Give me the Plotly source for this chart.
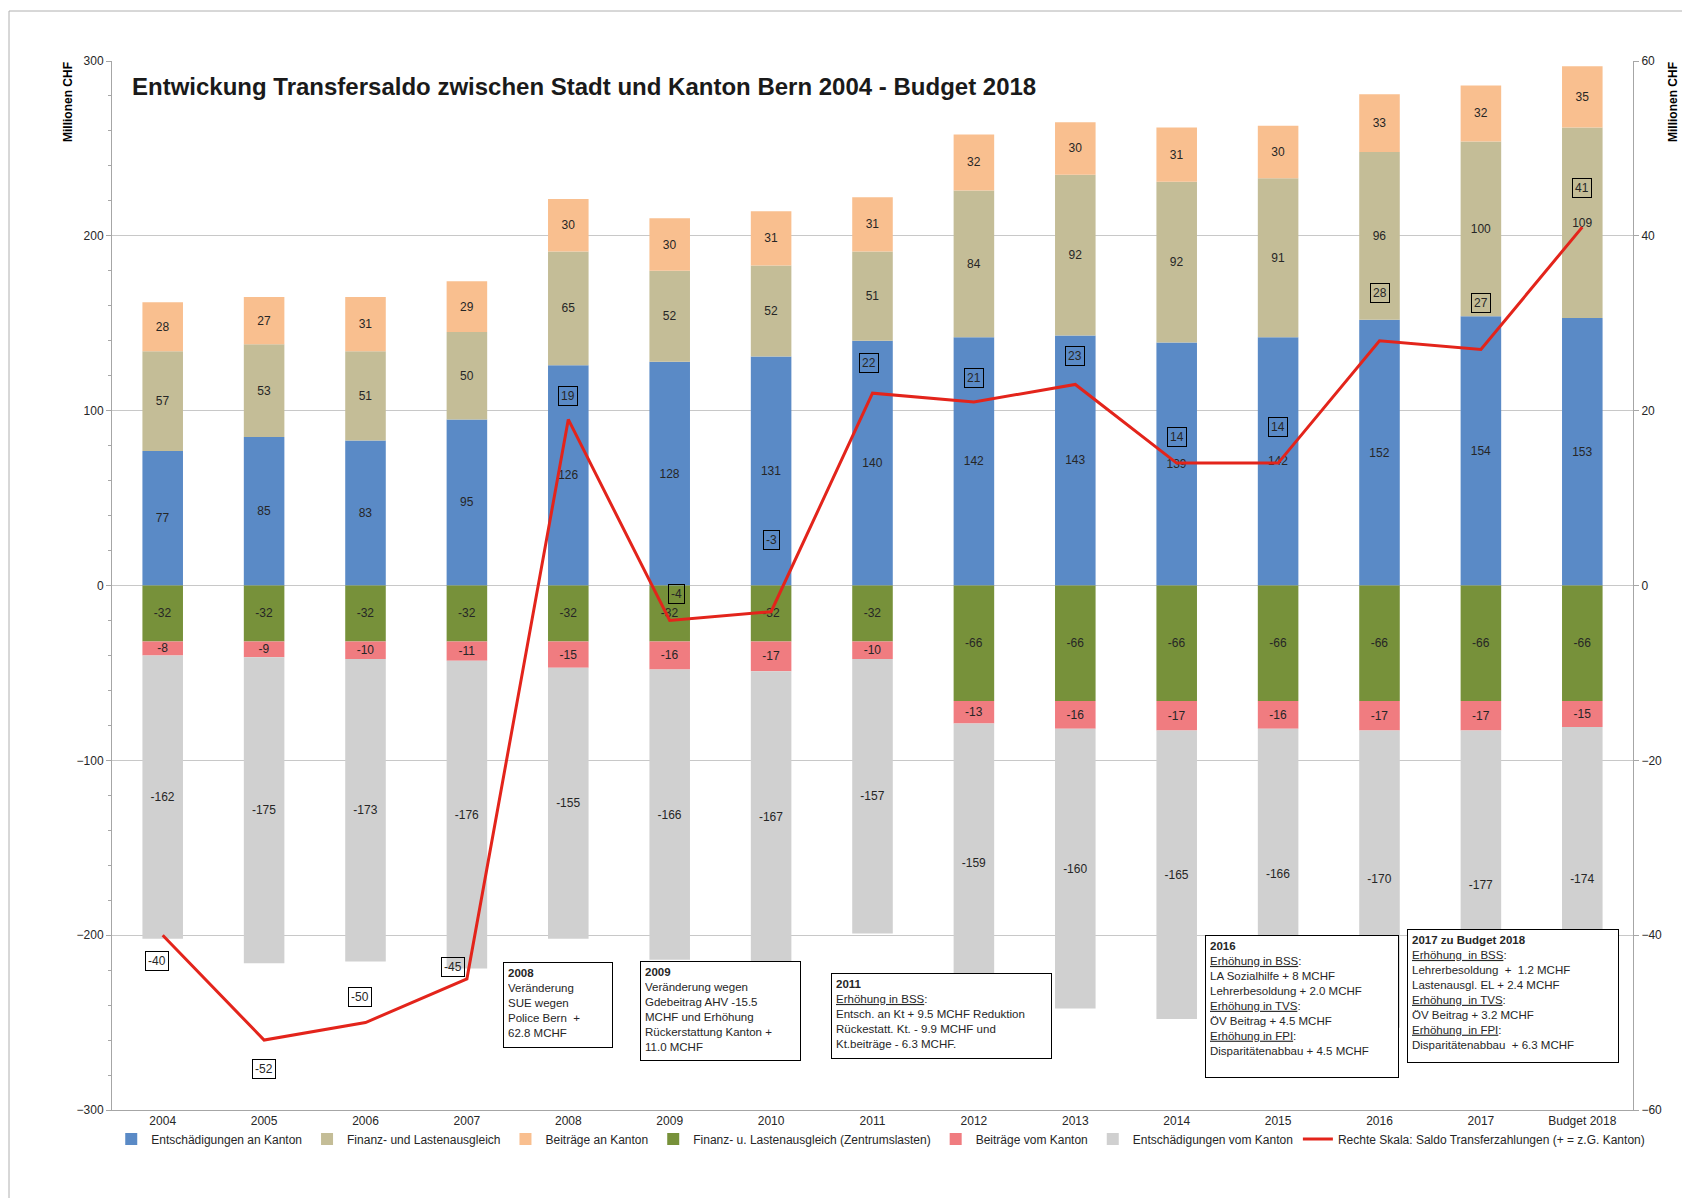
import plotly.graph_objects as go

# ---------------- data ----------------
years = ["2004", "2005", "2006", "2007", "2008", "2009", "2010", "2011",
         "2012", "2013", "2014", "2015", "2016", "2017", "Budget 2018"]
entsch_an_kanton = [77, 85, 83, 95, 126, 128, 131, 140, 142, 143, 139, 142, 152, 154, 153]
finanz_lastenausgleich = [57, 53, 51, 50, 65, 52, 52, 51, 84, 92, 92, 91, 96, 100, 109]
beitraege_an_kanton = [28, 27, 31, 29, 30, 30, 31, 31, 32, 30, 31, 30, 33, 32, 35]
zentrumslasten = [-32, -32, -32, -32, -32, -32, -32, -32, -66, -66, -66, -66, -66, -66, -66]
beitraege_vom_kanton = [-8, -9, -10, -11, -15, -16, -17, -10, -13, -16, -17, -16, -17, -17, -15]
entsch_vom_kanton = [-162, -175, -173, -176, -155, -166, -167, -157, -159, -160, -165, -166, -170, -177, -174]
saldo = [-40, -52, -50, -45, 19, -4, -3, 22, 21, 23, 14, 14, 28, 27, 41]

# label offsets (pixels) for the boxed saldo labels
saldo_label_dx = [-6, 0, -6, -14, 0, 7, 0, -4, 0, 0, 0, 0, 0, 0, 0]
saldo_label_dy = [-26, -29, 26, 12, 23, 26, 72, 30, 24, 28, 26, 36, 48, 46, 39]

FONT = "Liberation Sans, Arial, sans-serif"
TXT = "#262626"
AXC = "#A6A6A6"

W, H = 1682, 1198
L, R, T, B = 112, 49, 61, 88
PW, PH = W - L - R, H - T - B


def px(x):
    return (x - L) / PW


def py(y):
    return (H - B - y) / PH


fig = go.Figure()

series = [
    ("Entschädigungen an Kanton", entsch_an_kanton, "#5A8AC6"),
    ("Finanz- und Lastenausgleich", finanz_lastenausgleich, "#C4BD97"),
    ("Beiträge an Kanton", beitraege_an_kanton, "#F9BF8F"),
    ("Finanz- u. Lastenausgleich (Zentrumslasten)", zentrumslasten, "#77913A"),
    ("Beiträge vom Kanton", beitraege_vom_kanton, "#F07C80"),
    ("Entschädigungen vom Kanton", entsch_vom_kanton, "#D0D0D0"),
]
for name, vals, col in series:
    fig.add_trace(go.Bar(
        x=years, y=vals, name=name,
        marker=dict(color=col, line=dict(width=0)),
        text=[str(v) for v in vals],
        textposition="inside", insidetextanchor="middle", textangle=0,
        textfont=dict(size=12, color=TXT, family=FONT),
        hoverinfo="skip",
    ))

fig.add_trace(go.Scatter(
    x=years, y=saldo, yaxis="y2", mode="lines",
    name="Rechte Skala: Saldo Transferzahlungen (+ = z.G. Kanton)",
    line=dict(color="#E3241B", width=3),
    hoverinfo="skip",
))

annotations = []
for i, v in enumerate(saldo):
    annotations.append(dict(
        x=i, y=v, xref="x", yref="y2", text=str(v), showarrow=False,
        xshift=saldo_label_dx[i], yshift=saldo_label_dy[i],
        bordercolor="#000000", borderwidth=1, borderpad=2,
        font=dict(size=12, color=TXT, family=FONT),
    ))

# title
annotations.append(dict(
    x=px(130), y=py(86), xref="paper", yref="paper", xanchor="left", yanchor="middle",
    text="<b>Entwickung Transfersaldo zwischen Stadt und Kanton Bern 2004 - Budget 2018</b>",
    showarrow=False, font=dict(size=24, color="#1a1a1a", family=FONT),
))
# axis titles
for xx in (68, 1673):
    annotations.append(dict(
        x=px(xx), y=py(102), xref="paper", yref="paper", xanchor="center", yanchor="middle",
        text="<b>Millionen CHF</b>", textangle=-90, showarrow=False,
        font=dict(size=12, color="#000000", family=FONT),
    ))

boxes = [
    (503, 962, 110, 86,
     "<b>2008</b><br>Veränderung<br>SUE wegen<br>Police Bern  +<br>62.8 MCHF"),
    (640, 961, 161, 100,
     "<b>2009</b><br>Veränderung wegen<br>Gdebeitrag AHV -15.5<br>MCHF und Erhöhung<br>Rückerstattung Kanton +<br>11.0 MCHF"),
    (831, 973, 221, 86,
     "<b>2011</b><br><u>Erhöhung in BSS</u>:<br>Entsch. an Kt + 9.5 MCHF Reduktion<br>Rückestatt. Kt. - 9.9 MCHF und<br>Kt.beiträge - 6.3 MCHF."),
    (1205, 935, 194, 143,
     "<b>2016</b><br><u>Erhöhung in BSS</u>:<br>LA Sozialhilfe + 8 MCHF<br>Lehrerbesoldung + 2.0 MCHF<br><u>Erhöhung in TVS</u>:<br>ÖV Beitrag + 4.5 MCHF<br><u>Erhöhung in FPI</u>:<br>Disparitätenabbau + 4.5 MCHF"),
    (1407, 929, 212, 134,
     "<b>2017 zu Budget 2018</b><br><u>Erhöhung  in BSS</u>:<br>Lehrerbesoldung  +  1.2 MCHF<br>Lastenausgl. EL + 2.4 MCHF<br><u>Erhöhung  in TVS</u>:<br>ÖV Beitrag + 3.2 MCHF<br><u>Erhöhung  in FPI</u>:<br>Disparitätenabbau  + 6.3 MCHF"),
]
for x0, y0, bw, bh, txt in boxes:
    annotations.append(dict(
        x=px(x0), y=py(y0), xref="paper", yref="paper", xanchor="left", yanchor="top",
        text=txt, showarrow=False, align="left", valign="top",
        width=bw - 10, height=bh - 10, borderpad=4,
        bordercolor="#000000", borderwidth=1, bgcolor="#FFFFFF",
        font=dict(size=11.5, color=TXT, family=FONT),
    ))

shapes = [dict(
    type="rect", xref="paper", yref="paper",
    x0=px(9), x1=px(1720), y0=py(1240), y1=py(11),
    line=dict(color="#B0B0B0", width=1), fillcolor="rgba(0,0,0,0)", layer="below",
)]

fig.update_layout(
    width=W, height=H,
    margin=dict(l=L, r=R, t=T, b=B, autoexpand=False),
    paper_bgcolor="#FFFFFF", plot_bgcolor="#FFFFFF",
    font=dict(family=FONT, size=12, color=TXT),
    barmode="relative", bargap=0.6,
    uniformtext=dict(mode="show", minsize=12),
    showlegend=True,
    legend=dict(
        orientation="h", x=-0.0005, y=py(1139), xanchor="left", yanchor="middle",
        font=dict(size=12, color=TXT, family=FONT), traceorder="normal",
        itemwidth=30, bgcolor="rgba(0,0,0,0)",
    ),
    xaxis=dict(
        type="category", range=[-0.5, 14.5], showline=True, linecolor=AXC, linewidth=1,
        ticks="", showgrid=False, zeroline=False,
        tickfont=dict(size=12, color=TXT, family=FONT),
    ),
    xaxis2=dict(
        matches="x", overlaying="x", anchor="free", position=0.5,
        type="category", showline=True, linecolor=AXC, linewidth=1,
        ticks="outside", tickson="boundaries", ticklen=4, tickcolor=AXC,
        showticklabels=False, showgrid=False, zeroline=False,
    ),
    yaxis=dict(
        range=[-300, 300], dtick=100, showgrid=True, gridcolor="#C8C8C8", gridwidth=1,
        zeroline=False, showline=True, linecolor=AXC, linewidth=1,
        ticks="outside", ticklen=5, tickcolor=AXC,
        minor=dict(dtick=20, ticks="outside", ticklen=3, tickcolor=AXC, showgrid=False),
        tickfont=dict(size=12, color=TXT, family=FONT),
    ),
    yaxis2=dict(
        overlaying="y", side="right", range=[-60, 60], dtick=20, showgrid=False,
        zeroline=False, showline=True, linecolor=AXC, linewidth=1,
        ticks="outside", ticklen=5, tickcolor=AXC,
        tickfont=dict(size=12, color=TXT, family=FONT),
    ),
    annotations=annotations,
    shapes=shapes,
)

fig.write_html("out.html", config={"displayModeBar": False},
               post_script="document.body.style.margin='0';")
